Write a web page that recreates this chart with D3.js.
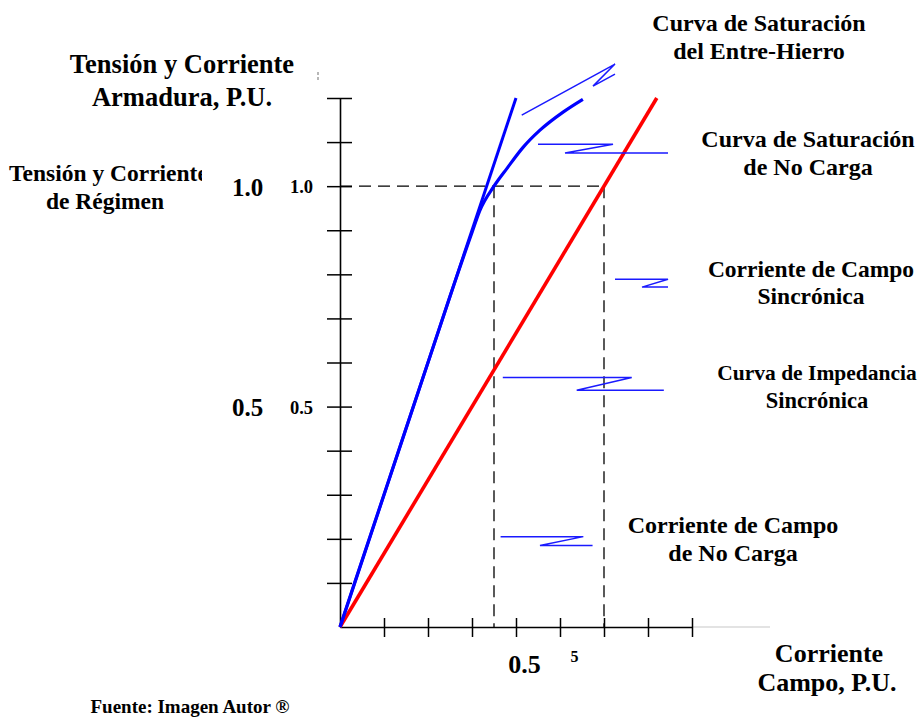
<!DOCTYPE html>
<html>
<head>
<meta charset="utf-8">
<script src="https://cdn.jsdelivr.net/npm/d3@7/dist/d3.min.js"></script>
<style>
  html, body { margin: 0; padding: 0; background: #fff; }
  svg text { font-family: "Liberation Serif", "Times New Roman", serif; font-weight: bold; fill: #000; }
</style>
</head>
<body>
<svg id="chart" width="919" height="717"></svg>
<script>
// Field current (p.u.) ticks and armature voltage/current (p.u.) ticks
const xTicks = [0.1, 0.2, 0.3, 0.4, 0.5, 0.6, 0.7, 0.8];
const yTicks = [0.1, 0.2, 0.3, 0.4, 0.5, 0.6, 0.7, 0.8, 0.9, 1.0, 1.1, 1.2];

// Air-gap line (linear extension of the open-circuit curve)
const airGapX = [0, 0.40];
const airGapY = [0, 1.20];

// Open-circuit (no-load) saturation curve
const noLoadX = [0, 0.10, 0.20, 0.25, 0.30, 0.318, 0.35, 0.38, 0.416, 0.4545, 0.507, 0.552];
const noLoadY = [0, 0.30, 0.60, 0.75, 0.895, 0.945, 1.00, 1.041, 1.088, 1.127, 1.168, 1.197];

// Short-circuit (synchronous impedance) characteristic
const shortX = [0, 0.72];
const shortY = [0, 1.20];

// Rated values
const ratedV = 1.0;
const ifNoLoad = 0.35;
const ifSync = 0.60;

const svg = d3.select("#chart");
const x = d3.scaleLinear().domain([0, 0.8]).range([340, 692]);
const y = d3.scaleLinear().domain([0, 1.2]).range([627, 98]);

const zip = (xs, ys) => xs.map((v, i) => [v, ys[i]]);
const line = d3.line().x(d => x(d[0])).y(d => y(d[1]));
const curve = d3.line().x(d => x(d[0])).y(d => y(d[1])).curve(d3.curveMonotoneX);

// light extension of the horizontal axis
svg.append("line")
  .attr("x1", x(0.8)).attr("x2", x(0.8) + 78)
  .attr("y1", y(0)).attr("y2", y(0))
  .attr("stroke", "#c8c8c8").attr("stroke-width", 1.2);

// reference dashed lines at rated voltage
const dash = svg.append("g")
  .attr("stroke", "#000").attr("stroke-width", 1.3)
  .attr("stroke-dasharray", "12,7").attr("fill", "none");
dash.append("line")
  .attr("x1", x(0)).attr("x2", x(ifSync))
  .attr("y1", y(ratedV)).attr("y2", y(ratedV));
dash.append("line")
  .attr("x1", x(ifNoLoad)).attr("x2", x(ifNoLoad))
  .attr("y1", y(ratedV)).attr("y2", y(0));
dash.append("line")
  .attr("x1", x(ifSync)).attr("x2", x(ifSync))
  .attr("y1", y(ratedV)).attr("y2", y(0));

// axes with ticks that cross the axis line
const gx = svg.append("g").attr("transform", `translate(0,${y(0)})`)
  .call(d3.axisBottom(x).tickValues(xTicks).tickSize(10).tickSizeOuter(0).tickFormat(""));
gx.selectAll(".tick line").attr("y1", -9).attr("stroke-width", 1.5);
gx.select(".domain").attr("stroke-width", 1.6);

const gy = svg.append("g").attr("transform", `translate(${x(0)},0)`)
  .call(d3.axisLeft(y).tickValues(yTicks).tickSize(13).tickSizeOuter(0).tickFormat(""));
gy.selectAll(".tick line").attr("x1", 12).attr("stroke-width", 1.5);
gy.select(".domain").attr("stroke-width", 1.6);

// small mark above the vertical axis
svg.append("line")
  .attr("x1", 318).attr("x2", 318).attr("y1", 72).attr("y2", 82)
  .attr("stroke", "#888").attr("stroke-width", 1.2).attr("stroke-dasharray", "3,2");

// characteristic curves
svg.append("path").datum(zip(shortX, shortY)).attr("d", line)
  .attr("fill", "none").attr("stroke", "#ff0000").attr("stroke-width", 3.6);
svg.append("path").datum(zip(airGapX, airGapY)).attr("d", line)
  .attr("fill", "none").attr("stroke", "#0000ff").attr("stroke-width", 3);
svg.append("path").datum(zip(noLoadX, noLoadY)).attr("d", curve)
  .attr("fill", "none").attr("stroke", "#0000ff").attr("stroke-width", 3.2);

// zig-zag leader lines pointing at each curve / field current
const leaders = [
  [[0.413, 1.161], [0.625, 1.277], [0.575, 1.227], [0.625, 1.254]],
  [[0.45, 1.095], [0.6205, 1.095], [0.5114, 1.075], [0.7455, 1.075]],
  [[0.625, 0.789], [0.7455, 0.789], [0.6864, 0.771], [0.7455, 0.771]],
  [[0.37, 0.566], [0.663, 0.566], [0.538, 0.537], [0.736, 0.537]],
  [[0.365, 0.205], [0.553, 0.205], [0.4545, 0.185], [0.574, 0.185]]
];
svg.append("g").selectAll("path").data(leaders).join("path")
  .attr("d", line).attr("fill", "none")
  .attr("stroke", "#1a1aff").attr("stroke-width", 1.5);

// text
const text = (t, px, py, size, anchor = "middle") =>
  svg.append("text").attr("x", px).attr("y", py)
    .attr("font-size", size).attr("text-anchor", anchor).text(t);

text("Tensión y Corriente", 182, 73, 26.5);
text("Armadura, P.U.", 182, 106, 26.5);

svg.append("clipPath").attr("id", "clipLeft")
  .append("rect").attr("x", 0).attr("y", 150).attr("width", 202).attr("height", 80);
text("Tensión y Corriente", 9, 181, 23.5, "start").attr("clip-path", "url(#clipLeft)");
text("de Régimen", 105, 209, 23.5);

text("1.0", 247.5, 196, 25);
text("1.0", 301.5, 193, 18.5);
text("0.5", 247.5, 416, 25);
text("0.5", 301.5, 414, 18.5);

text("0.5", 524.5, 673, 26);
text("5", 574.5, 662, 16);

text("Curva de Saturación", 759, 31, 24);
text("del Entre-Hierro", 759, 59, 24);
text("Curva de Saturación", 808, 147, 24);
text("de No Carga", 808, 175, 24);
text("Corriente de Campo", 811, 277, 23.5);
text("Sincrónica", 811, 304, 23.5);
text("Curva de Impedancia", 817, 380, 21.5);
text("Sincrónica", 817, 408, 22.5);
text("Corriente de Campo", 733, 533, 24);
text("de No Carga", 733, 561, 24);

text("Corriente", 829, 662, 26);
text("Campo, P.U.", 827, 691, 26);

text("Fuente: Imagen Autor ®", 190, 713, 19);
</script>
</body>
</html>
